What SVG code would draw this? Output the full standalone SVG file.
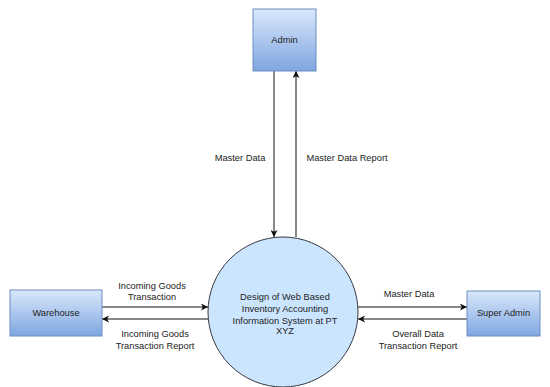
<svg xmlns="http://www.w3.org/2000/svg" width="550" height="387" viewBox="0 0 550 387">
<defs>
<linearGradient id="boxg" x1="0" y1="0" x2="0" y2="1">
<stop offset="0" stop-color="#dae8fc"/>
<stop offset="1" stop-color="#7ea6e0"/>
</linearGradient>
<marker id="ah" viewBox="0 0 10 10" refX="10" refY="5" markerWidth="7" markerHeight="7" orient="auto" markerUnits="userSpaceOnUse">
<path d="M0,0 L10,5 L0,10 L2.5,5 Z" fill="#111"/>
</marker>
<style>
.box{fill:url(#boxg);stroke:#6c8ebf;stroke-width:1}
.proc{fill:#cce5ff;stroke:#36393d;stroke-width:1}
.t{font-family:"Liberation Sans",Arial,sans-serif;font-size:9.3px;fill:#222;text-anchor:middle}
.c{stroke:#111;stroke-width:1;fill:none;marker-end:url(#ah)}
</style>
</defs>
<rect width="550" height="387" fill="#ffffff"/>
<g id="connectors">
<line class="c" x1="274" y1="71" x2="274" y2="237"/>
<line class="c" x1="296" y1="237" x2="296" y2="71"/>
<line class="c" x1="102" y1="307" x2="208" y2="307"/>
<line class="c" x1="209" y1="319" x2="102" y2="319"/>
<line class="c" x1="358" y1="307" x2="467" y2="307"/>
<line class="c" x1="467" y1="319" x2="358" y2="319"/>
<text class="t" x="240" y="161">Master Data</text>
<text class="t" x="347" y="161">Master Data Report</text>
<text class="t" x="152" y="289">Incoming Goods</text>
<text class="t" x="152" y="300">Transaction</text>
<text class="t" x="155" y="337">Incoming Goods</text>
<text class="t" x="155" y="349">Transaction Report</text>
<text class="t" x="409" y="297">Master Data</text>
<text class="t" x="418" y="337">Overall Data</text>
<text class="t" x="418" y="349">Transaction Report</text>
</g>
<g id="admin">
<rect class="box" x="253" y="9" width="63" height="62"/>
<text class="t" x="284.5" y="43">Admin</text>
</g>
<g id="warehouse">
<rect class="box" x="10" y="290" width="92" height="46"/>
<text class="t" x="56" y="316">Warehouse</text>
</g>
<g id="superadmin">
<rect class="box" x="467" y="291" width="73" height="45"/>
<text class="t" x="503.5" y="316">Super Admin</text>
</g>
<g id="system">
<circle class="proc" cx="283" cy="312" r="75"/>
<text class="t" x="285" y="300">Design of Web Based</text>
<text class="t" x="285" y="312">Inventory Accounting</text>
<text class="t" x="285" y="324">Information System at PT</text>
<text class="t" x="285" y="334">XYZ</text>
</g>
</svg>
